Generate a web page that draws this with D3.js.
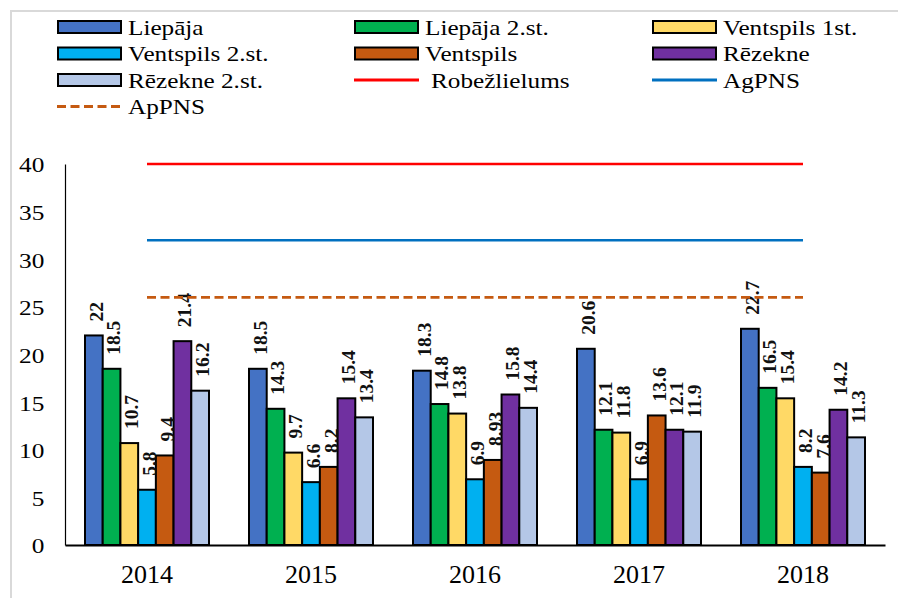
<!DOCTYPE html>
<html>
<head>
<meta charset="utf-8">
<script src="https://cdn.jsdelivr.net/npm/d3@7"></script>
<style>
  body { margin: 0; background: #fff; }
  svg { display: block; font-family: "Liberation Serif", "Times New Roman", serif; }
</style>
</head>
<body>
<div id="chart"></div>
<script>
// Chart data
const years = ["2014", "2015", "2016", "2017", "2018"];

const barSeries = ["Liepāja", "Liepāja 2.st.", "Ventspils 1st.", "Ventspils 2.st.", "Ventspils", "Rēzekne", "Rēzekne 2.st."];
const barColors = ["#4472C4", "#00B050", "#FFD966", "#00B0F0", "#C55A11", "#7030A0", "#B4C7E7"];

const liepaja     = [22, 18.5, 18.3, 20.6, 22.7];
const liepaja2    = [18.5, 14.3, 14.8, 12.1, 16.5];
const ventspils1  = [10.7, 9.7, 13.8, 11.8, 15.4];
const ventspils2  = [5.8, 6.6, 6.9, 6.9, 8.2];
const ventspils   = [9.4, 8.2, 8.93, 13.6, 7.6];
const rezekne     = [21.4, 15.4, 15.8, 12.1, 14.2];
const rezekne2    = [16.2, 13.4, 14.4, 11.9, 11.3];
const barValues = [liepaja, liepaja2, ventspils1, ventspils2, ventspils, rezekne, rezekne2];

const lineSeries = ["Robežlielums", "AgPNS", "ApPNS"];
const robezlielums = [40, 40, 40, 40, 40];
const agpns        = [32, 32, 32, 32, 32];
const appns        = [26, 26, 26, 26, 26];
const lineValues = [robezlielums, agpns, appns];

const yTicks = [0, 5, 10, 15, 20, 25, 30, 35, 40];

// Dimensions
const width = 898;
const height = 598;
const serif = "'Liberation Serif', 'Times New Roman', serif";

const svg = d3.select("#chart")
    .append("svg")
    .attr("width", width)
    .attr("height", height);

// grey frame (left and top edges visible)
svg.append("path")
    .attr("d", "M11,598V11H898")
    .attr("fill", "none")
    .attr("stroke", "#d9d9d9")
    .attr("stroke-width", 2);

// Scales
const x0 = d3.scaleBand()
    .domain(years)
    .range([65, 885])
    .paddingInner(40 / 164)
    .paddingOuter(20 / 164);

const x1 = d3.scaleBand()
    .domain(barSeries)
    .range([0, x0.bandwidth()]);

const y = d3.scaleLinear()
    .domain([0, 40])
    .range([545, 164]);

// Y axis
const yAxis = svg.append("g")
    .attr("transform", "translate(65,0)")
    .call(d3.axisLeft(y).tickValues(yTicks).tickSize(0).tickSizeOuter(0).tickPadding(18));
yAxis.select(".domain").attr("stroke", "#000").attr("stroke-width", 1.2);
yAxis.selectAll("text")
    .attr("font-family", serif)
    .attr("font-size", "22px")
    .attr("fill", "#000")
    .attr("dy", "0.36em")
    .attr("transform", "scale(1.15,1)");

// Bars
const groups = svg.append("g")
    .selectAll("g")
    .data(years)
    .join("g")
    .attr("transform", d => `translate(${x0(d)},0)`);

groups.selectAll("rect")
    .data((yr, i) => barSeries.map((s, k) => ({ series: s, value: barValues[k][i], color: barColors[k] })))
    .join("rect")
    .attr("x", d => x1(d.series))
    .attr("y", d => y(d.value))
    .attr("width", x1.bandwidth())
    .attr("height", d => y(0) - y(d.value))
    .attr("fill", d => d.color)
    .attr("stroke", "#000")
    .attr("stroke-width", 2);

// X axis
const xAxis = svg.append("g")
    .attr("transform", "translate(0,545)")
    .call(d3.axisBottom(x0).tickSize(0).tickSizeOuter(0));
xAxis.select(".domain").attr("stroke", "#000").attr("stroke-width", 2.2);
xAxis.selectAll("text")
    .attr("font-family", serif)
    .attr("font-size", "26px")
    .attr("fill", "#000")
    .attr("y", 38)
    .attr("dy", 0);

// Horizontal limit lines through category centres
const lineStyles = [
    { color: "#FF0000", dash: null },
    { color: "#0070C0", dash: null },
    { color: "#C55A11", dash: "9,4.5" }
];

const line = d3.line()
    .x((d, i) => x0(years[i]) + x0.bandwidth() / 2)
    .y(d => y(d));

lineValues.forEach((vals, k) => {
    svg.append("path")
        .attr("d", line(vals))
        .attr("fill", "none")
        .attr("stroke", lineStyles[k].color)
        .attr("stroke-width", 2.6)
        .attr("stroke-dasharray", lineStyles[k].dash);
});

// Data labels (rotated)
groups.selectAll("text.lbl")
    .data((yr, i) => barSeries.map((s, k) => ({ series: s, value: barValues[k][i] })))
    .join("text")
    .attr("class", "lbl")
    .attr("transform", d => `translate(${x1(d.series) + x1.bandwidth() / 2 + 2},${y(d.value) - 14}) rotate(-90)`)
    .attr("dy", "0.35em")
    .attr("font-family", serif)
    .attr("font-size", "19.5px")
    .attr("font-weight", "bold")
    .attr("fill", "#111")
    .text(d => d.value);

// Legend
const legendItems = [...barSeries.map((s, k) => ({ name: s, type: "bar", color: barColors[k] })),
    ...lineSeries.map((s, k) => ({ name: s, type: "line", color: lineStyles[k].color, dash: lineStyles[k].dash }))];

const legendCols = [57, 354, 652];
const legendRows = [27, 53.5, 80, 106.5];

const legend = svg.append("g");
legendItems.forEach((item, i) => {
    const lx = legendCols[i % 3];
    const ly = legendRows[Math.floor(i / 3)];
    const g = legend.append("g").attr("transform", `translate(${lx},${ly})`);
    if (item.type === "bar") {
        g.append("rect")
            .attr("x", 1).attr("y", -6)
            .attr("width", 63).attr("height", 12)
            .attr("fill", item.color)
            .attr("stroke", "#000")
            .attr("stroke-width", 2);
    } else {
        g.append("line")
            .attr("x1", 0).attr("x2", 65)
            .attr("y1", 0).attr("y2", 0)
            .attr("stroke", item.color)
            .attr("stroke-width", 3)
            .attr("stroke-dasharray", item.dash);
    }
    const offset = item.name === "Robežlielums" ? 77 : 71;
    g.append("text")
        .attr("transform", `translate(${offset},0) scale(1.2,1)`)
        .attr("dy", "0.36em")
        .attr("font-family", serif)
        .attr("font-size", "21px")
        .attr("fill", "#000")
        .text(item.name);
});
</script>
</body>
</html>
